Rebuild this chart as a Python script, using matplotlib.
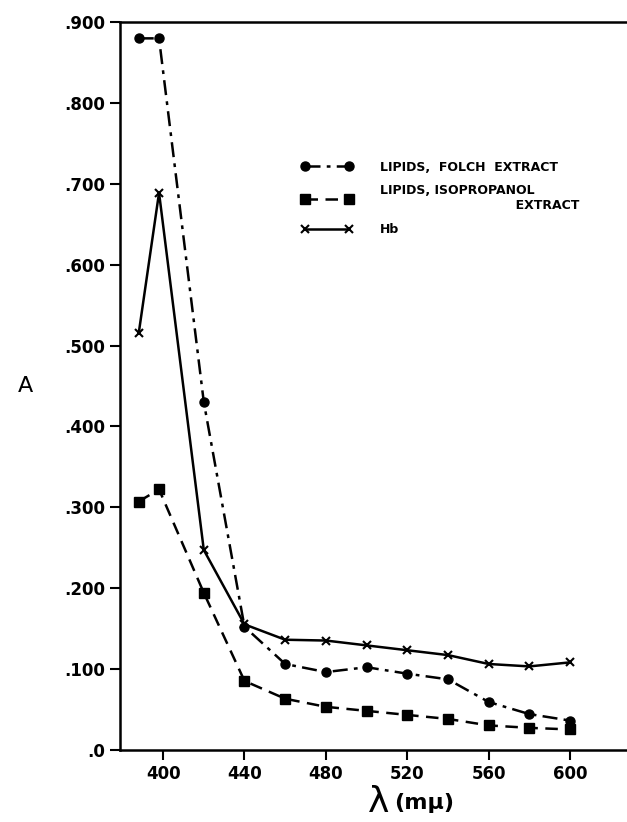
import matplotlib.pyplot as plt

# wavelengths (m-mu) and absorbance
wl = [388, 398, 420, 440, 460, 480, 500, 520, 540, 560, 580, 600]
folch = [0.880, 0.880, 0.430, 0.152, 0.106, 0.096, 0.102, 0.094, 0.087, 0.059, 0.044, 0.036]
isoprop = [0.307, 0.322, 0.194, 0.085, 0.063, 0.053, 0.048, 0.043, 0.038, 0.030, 0.027, 0.025]
hb = [0.515, 0.689, 0.247, 0.155, 0.136, 0.135, 0.129, 0.123, 0.117, 0.106, 0.103, 0.108]

yticks = [0, 0.1, 0.2, 0.3, 0.4, 0.5, 0.6, 0.7, 0.8, 0.9]
ytick_labels = ['.0', '.100', '.200', '.300', '.400', '.500', '.600', '.700', '.800', '.900']
xticks = [400, 440, 480, 520, 560, 600]

fig = plt.figure(figsize=(6.27, 8.22), dpi=100)
ax = fig.add_axes([0.192, 0.088, 0.808, 0.885])

ax.plot(wl, folch, color='black', lw=1.8, ls=(0, (6, 2.5, 1.5, 2.5)),
        marker='o', ms=6.5, label='LIPIDS,  FOLCH  EXTRACT')
ax.plot(wl, isoprop, color='black', lw=1.8, ls=(0, (5, 3)),
        marker='s', ms=7, label='LIPIDS, ISOPROPANOL\n' + ' ' * 31 + 'EXTRACT')
ax.plot(wl, hb, color='black', lw=1.8, ls='-',
        marker='x', ms=6, mew=1.5, label='Hb')

ax.set_xlim(379, 628)
ax.set_ylim(0, 0.9)
ax.set_xticks(xticks)
ax.set_xticklabels([str(x) for x in xticks], fontsize=12, fontweight='semibold')
ax.set_yticks(yticks)
ax.set_yticklabels(ytick_labels, fontsize=12, fontweight='semibold')
ax.tick_params(axis='both', direction='out', length=7, width=1.5, pad=4)

ax.spines['right'].set_visible(False)
for s in ['left', 'bottom', 'top']:
    ax.spines[s].set_linewidth(1.8)

ax.set_ylabel('A', fontsize=16, rotation=0, labelpad=28, va='center')

# lambda label under the x axis
ax.text(0.51, -0.072, 'λ', transform=ax.transAxes, fontsize=26,
        ha='center', va='center')
ax.text(0.54, -0.074, '(mμ)', transform=ax.transAxes, fontsize=16,
        fontweight='bold', ha='left', va='center')

leg = ax.legend(loc='upper left', bbox_to_anchor=(0.335, 0.825), frameon=False,
                handlelength=4.1, handletextpad=2.2, labelspacing=0.85,
                prop={'size': 9, 'weight': 'bold'}, numpoints=2)

fig.savefig('out.png', dpi=100)
